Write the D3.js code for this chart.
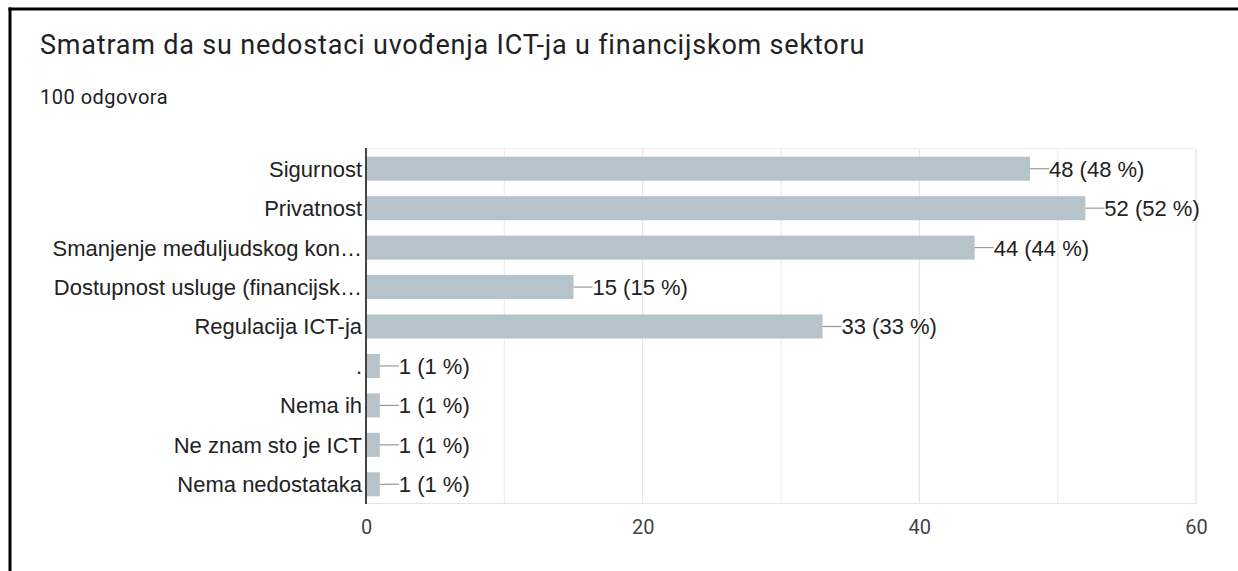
<!DOCTYPE html>
<html>
<head>
<meta charset="utf-8">
<script src="https://cdn.jsdelivr.net/npm/d3@7"></script>
<style>
  html, body { margin: 0; padding: 0; background: #fff; }
  svg { display: block; }
</style>
</head>
<body>
<svg id="chart" width="1238" height="571"></svg>
<script>
const title = "Smatram da su nedostaci uvođenja ICT-ja u financijskom sektoru";
const subtitle = "100 odgovora";
const categories = [
  "Sigurnost",
  "Privatnost",
  "Smanjenje međuljudskog kon…",
  "Dostupnost usluge (financijsk…",
  "Regulacija ICT-ja",
  ".",
  "Nema ih",
  "Ne znam sto je ICT",
  "Nema nedostataka"
];
const counts = [48, 52, 44, 15, 33, 1, 1, 1, 1];
const total = 100;
const tickValues = [0, 20, 40, 60];
const minorTicks = [10, 30, 50];

const svg = d3.select("#chart");
const W = 1238, H = 571;

// frame
svg.append("line").attr("x1", 8.5).attr("x2", W).attr("y1", 9).attr("y2", 9)
  .attr("stroke", "#000").attr("stroke-width", 3);
svg.append("line").attr("x1", 10).attr("x2", 10).attr("y1", 7.5).attr("y2", H)
  .attr("stroke", "#000").attr("stroke-width", 3);

svg.append("text").attr("x", 40).attr("y", 54)
  .attr("font-family", "Roboto, Arial, sans-serif").attr("font-size", 27)
  .attr("letter-spacing", 0.8)
  .attr("fill", "#202124").text(title);
svg.append("text").attr("x", 40).attr("y", 104)
  .attr("font-family", "Roboto, Arial, sans-serif").attr("font-size", 20)
  .attr("letter-spacing", 0.5)
  .attr("fill", "#202124").text(subtitle);

const plot = { left: 366, right: 1196, top: 149, bottom: 504 };
const x = d3.scaleLinear().domain([0, 60]).range([plot.left, plot.right]);
const y = d3.scaleBand().domain(categories).range([plot.top, plot.bottom]).paddingInner(0.39).paddingOuter(0.195);

const g = svg.append("g");

// grid
g.selectAll(".minor").data(minorTicks).join("line")
  .attr("x1", d => x(d)).attr("x2", d => x(d))
  .attr("y1", plot.top).attr("y2", plot.bottom)
  .attr("stroke", "#ebebeb").attr("stroke-width", 1);
g.selectAll(".major").data(tickValues.slice(1)).join("line")
  .attr("x1", d => x(d)).attr("x2", d => x(d))
  .attr("y1", plot.top).attr("y2", plot.bottom)
  .attr("stroke", "#e0e0e0").attr("stroke-width", 1);
g.append("line").attr("x1", plot.left).attr("x2", plot.right)
  .attr("y1", plot.bottom - 0.5).attr("y2", plot.bottom - 0.5)
  .attr("stroke", "#e6e6e6");
g.append("line").attr("x1", plot.left).attr("x2", plot.right)
  .attr("y1", plot.top - 0.5).attr("y2", plot.top - 0.5)
  .attr("stroke", "#f0f0f0");

// bars
g.selectAll(".bar").data(categories).join("rect")
  .attr("x", x(0))
  .attr("y", d => y(d))
  .attr("width", (d, i) => x(counts[i]) - x(0))
  .attr("height", y.bandwidth())
  .attr("fill", "#b6c3ca");

// leader lines and value labels
g.selectAll(".lead").data(categories).join("line")
  .attr("x1", (d, i) => x(counts[i]))
  .attr("x2", (d, i) => x(counts[i]) + 19)
  .attr("y1", d => y(d) + y.bandwidth() / 2)
  .attr("y2", d => y(d) + y.bandwidth() / 2)
  .attr("stroke", "#999").attr("stroke-width", 1.2);
g.selectAll(".val").data(categories).join("text")
  .attr("x", (d, i) => x(counts[i]) + 19)
  .attr("y", d => y(d) + y.bandwidth() / 2)
  .attr("dy", "0.36em")
  .attr("font-family", "Arial, 'Liberation Sans', sans-serif").attr("font-size", 22)
  .attr("fill", "#222")
  .text((d, i) => `${counts[i]} (${Math.round(counts[i] / total * 100)} %)`);

// category labels
g.selectAll(".cat").data(categories).join("text")
  .attr("x", plot.left - 4)
  .attr("y", d => y(d) + y.bandwidth() / 2)
  .attr("dy", "0.36em")
  .attr("text-anchor", "end")
  .attr("font-family", "Arial, 'Liberation Sans', sans-serif").attr("font-size", 22)
  .attr("fill", "#222")
  .text(d => d);

// axis baseline
g.append("line").attr("x1", x(0)).attr("x2", x(0))
  .attr("y1", plot.top - 1).attr("y2", plot.bottom)
  .attr("stroke", "#444").attr("stroke-width", 2);

// x tick labels
const xAxis = d3.axisBottom(x).tickValues(tickValues).tickSize(0).tickPadding(0);
const ax = svg.append("g").attr("transform", `translate(0, ${plot.bottom + 16})`).call(xAxis);
ax.select(".domain").remove();
ax.selectAll("text")
  .attr("font-family", "Roboto, Arial, sans-serif").attr("font-size", 20)
  .attr("fill", "#444").attr("dy", "0.71em");
</script>
</body>
</html>
